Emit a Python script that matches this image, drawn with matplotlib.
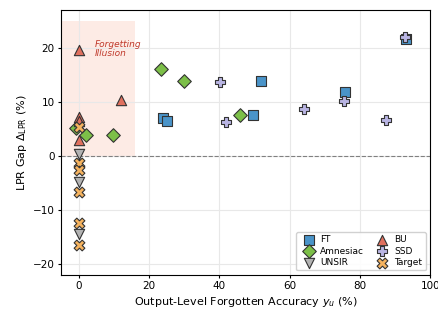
import matplotlib
matplotlib.use("Agg")
import matplotlib.pyplot as plt
from matplotlib.patches import Rectangle

ft_x = [93.0, 52.0, 75.9, 49.7, 23.9, 25.0]
ft_y = [21.6, 13.8, 11.8, 7.6, 7.0, 6.5]
amn_x = [23.3, 30.1, 46.0, 9.7, 2.2, -0.8]
amn_y = [16.0, 13.8, 7.5, 3.9, 3.9, 5.2]
unsir_x = [0.0, 0.0, 0.0]
unsir_y = [0.4, -4.9, -14.4]
bu_x = [0.0, 12.0, 0.0, 0.0, 0.0]
bu_y = [19.5, 10.4, 7.2, 6.5, 3.0]
ssd_x = [92.8, 40.1, 41.8, 64.0, 75.6, 87.5]
ssd_y = [22.0, 13.7, 6.2, 8.6, 10.1, 6.7]
tgt_x = [0.0, 0.0, 0.0, 0.0, 0.0, 0.0]
tgt_y = [5.3, -1.3, -2.5, -6.6, -12.3, -16.5]

fig, ax = plt.subplots(figsize=(4.39, 3.09), dpi=100)
fig.subplots_adjust(left=0.139, right=0.98, top=0.968, bottom=0.11)

ax.set_xlim(-5, 100)
ax.set_ylim(-22, 27)

ax.add_patch(Rectangle((-5, 0), 21, 25, facecolor="#fde3da", edgecolor="none", alpha=0.7, zorder=0))
ax.text(4.5, 21.5, "Forgetting\nIllusion", color="#c0392b", style="italic", fontsize=6.5,
        va="top", ha="left", linespacing=1.0, zorder=1)
ax.axhline(0, color="gray", linestyle="--", linewidth=0.8, zorder=1)
ax.grid(True, color="#e8e8e8", linewidth=0.8, zorder=0)
ax.set_axisbelow(True)

kw = dict(edgecolors="#333333", linewidths=0.8, zorder=3)
ax.scatter(ft_x, ft_y, marker="s", s=48, color="#4a94c9", label="FT", **kw)
ax.scatter(amn_x, amn_y, marker="D", s=48, color="#7cbf48", label="Amnesiac", **kw)
ax.scatter(unsir_x, unsir_y, marker="v", s=55, color="#b3b3b3", label="UNSIR", **kw)
ax.scatter(bu_x, bu_y, marker="^", s=55, color="#e0705e", label="BU", **kw)
ax.scatter(ssd_x, ssd_y, marker="P", s=60, color="#b9b5e3", label="SSD", **kw)
ax.scatter(tgt_x, tgt_y, marker="X", s=60, color="#f5b35f", label="Target", **kw)

ax.set_xticks([0, 20, 40, 60, 80, 100])
ax.set_yticks([-20, -10, 0, 10, 20])
ax.tick_params(labelsize=7.5, length=2.5, pad=2)
ax.set_xlabel("Output-Level Forgotten Accuracy $y_u$ (%)", fontsize=8, labelpad=2.5)
ax.set_ylabel("LPR Gap $\\Delta_{\\mathrm{LPR}}$ (%)", fontsize=8, labelpad=3)

ax.legend(loc="lower right", ncol=2, fontsize=6.5, columnspacing=1.0, handletextpad=0.3,
          labelspacing=0.25, borderpad=0.4, framealpha=0.9)

fig.savefig("out.png", dpi=100)
